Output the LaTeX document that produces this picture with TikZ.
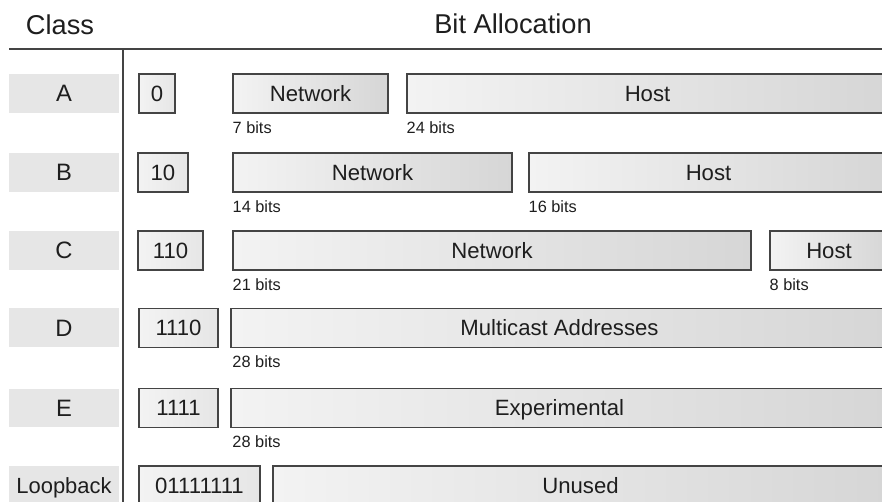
\documentclass[tikz,border=0pt]{standalone}
\usepackage{fontspec}
\setmainfont{Liberation Sans}
\usetikzlibrary{positioning, calc}
\definecolor{inkgray}{HTML}{1E1E1E}
\definecolor{rulegray}{HTML}{444444}
\definecolor{bandgray}{HTML}{E6E6E6}
\definecolor{barlight}{HTML}{F3F3F3}
\definecolor{bardark}{HTML}{D6D6D6}

\begin{document}
\begin{tikzpicture}[
    x=0.02cm, y=-0.02cm,
    header/.style={font=\fontsize{15.5}{18}\selectfont, text=inkgray},
    classband/.style={fill=bandgray, minimum width=2.2cm, minimum height=0.78cm, inner sep=0pt, text height=9.6pt, text depth=0pt, text=inkgray, font=\fontsize{13.5}{16}\selectfont},
    prefixbox/.style={draw=rulegray, line width=0.8pt, left color=barlight, right color=bandgray, minimum height=0.78cm, inner sep=0pt, text height=9pt, text depth=0pt, text=inkgray, font=\fontsize{12.6}{15}\selectfont},
    fieldbox/.style={draw=rulegray, line width=0.8pt, left color=barlight, right color=bardark, minimum height=0.78cm, inner sep=0pt, text height=9pt, text depth=0pt, text=inkgray, font=\fontsize{12.6}{15}\selectfont},
    bits/.style={anchor=base west, inner sep=0pt, text=inkgray, font=\fontsize{9.3}{11}\selectfont},
    rulestroke/.style={draw=rulegray, line width=1pt}
]
\useasboundingbox (0,0) rectangle (882,502);
\clip (0,0) rectangle (882,502);

% ===== HEADINGS =====
\node[header] (hclass) at (60,25) {Class};
\node[header] (halloc) at (513,24) {Bit Allocation};

\coordinate (ruleL) at (9,49);
\coordinate (ruleR) at (884,49);
\coordinate (colT) at (123,49);
\coordinate (colB) at (123,504);
\draw[rulestroke] (ruleL) -- (ruleR);
\draw[rulestroke] (colT) -- (colB);

% ===== CLASS COLUMN =====
\foreach \nm/\y in {A/93.5, B/172.5, C/250.5, D/328, E/408} {
    \node[classband] (cls\nm) at (64,\y) {\nm};
}
\node[classband, font=\fontsize{12.5}{15}\selectfont, text height=9pt] (clsL) at (64,485.5) {Loopback};

% ===== CLASS A =====
\node[prefixbox, minimum width=0.72cm] (preA) at (157,93.5) {0};
\node[fieldbox, minimum width=3.1cm] (netA) at (310.5,93.5) {Network};
\node[fieldbox, minimum width=9.62cm] (hostA) at (647.5,93.5) {Host};
\node[bits] (bitsAn) at ([yshift=-11pt]netA.south west) {7 bits};
\node[bits] (bitsAh) at ([yshift=-11pt]hostA.south west) {24 bits};

% ===== CLASS B =====
\node[prefixbox, minimum width=1.0cm] (preB) at (163,172.5) {10};
\node[fieldbox, minimum width=5.58cm] (netB) at (372.5,172.5) {Network};
\node[fieldbox, minimum width=7.18cm] (hostB) at (708.5,172.5) {Host};
\node[bits] (bitsBn) at ([yshift=-11pt]netB.south west) {14 bits};
\node[bits] (bitsBh) at ([yshift=-11pt]hostB.south west) {16 bits};

% ===== CLASS C =====
\node[prefixbox, minimum width=1.3cm] (preC) at (170.5,250.5) {110};
\node[fieldbox, minimum width=10.36cm] (netC) at (492,250.5) {Network};
\node[fieldbox, minimum width=2.36cm] (hostC) at (829,250.5) {Host};
\node[bits] (bitsCn) at ([yshift=-11pt]netC.south west) {21 bits};
\node[bits] (bitsCh) at ([yshift=-11pt]hostC.south west) {8 bits};

% ===== CLASS D / E =====
\node[prefixbox, minimum width=1.58cm] (preD) at (178.5,328) {1110};
\node[fieldbox, minimum width=13.14cm] (mcD) at (559.5,328) {Multicast Addresses};
\node[bits] (bitsD) at ([xshift=1pt, yshift=-11pt]mcD.south west) {28 bits};

\node[prefixbox, minimum width=1.58cm] (preE) at (178.5,408) {1111};
\node[fieldbox, minimum width=13.14cm] (expE) at (559.5,408) {Experimental};
\node[bits] (bitsE) at ([xshift=1pt, yshift=-11pt]expE.south west) {28 bits};

% ===== LOOPBACK =====
\node[prefixbox, minimum width=2.42cm] (preL) at (199.5,485.5) {01111111};
\node[fieldbox, minimum width=12.3cm] (unL) at (580.5,485.5) {Unused};

\end{tikzpicture}
\end{document}
